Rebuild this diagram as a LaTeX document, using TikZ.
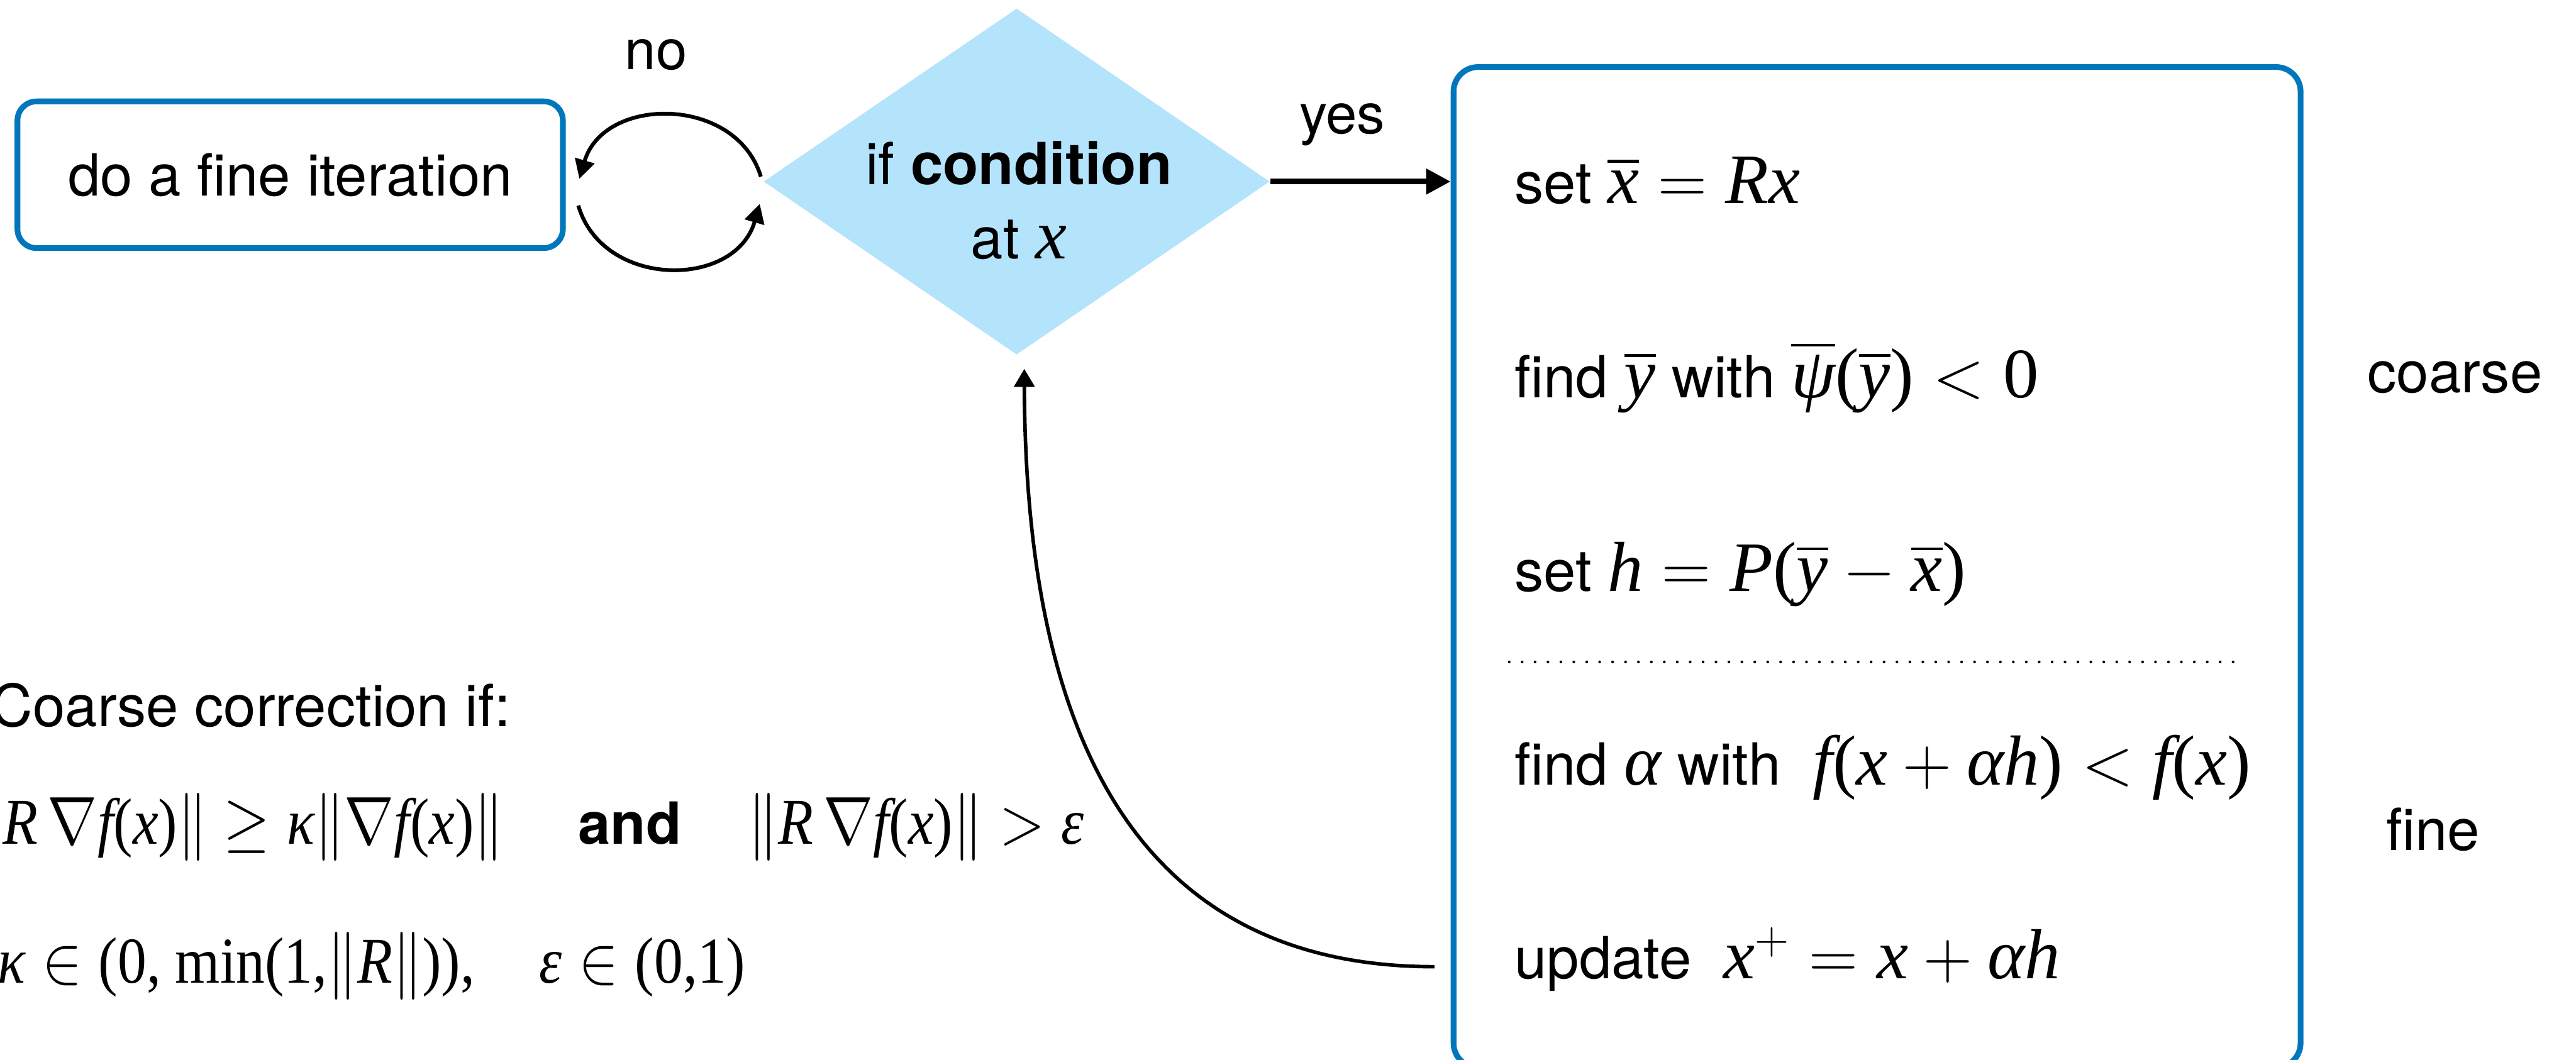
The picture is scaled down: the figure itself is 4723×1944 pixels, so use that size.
\documentclass[tikz,border=0pt]{standalone}
\usepackage{amsmath}
\usepackage{graphicx}
\usepackage[no-math]{fontspec}
\setmainfont{TeX Gyre Heros}
\newfontfamily\tms{Liberation Serif}
\usetikzlibrary{arrows.meta,shapes.geometric}
\definecolor{frameblue}{RGB}{0,119,187}
\definecolor{decisionfill}{RGB}{180,227,252}
% serif letters inside formulas
\newcommand\mi[1]{\text{\tms\itshape #1}}
\newcommand\mr[1]{\text{\tms #1}}
% formulas set a little larger than the sans text around them
\newcommand\eqn[1]{{\fontsize{26}{30}\selectfont$#1$}}
% condensed display of the criterion formulas
\newcommand\cond[1]{\scalebox{0.88}[1]{$#1$}}

\begin{document}
\begin{tikzpicture}[x=0.2pt,y=0.2pt,
  txt/.style={inner sep=0pt, font=\fontsize{21.3}{27}\selectfont},
  lbl/.style={inner sep=0pt, font=\fontsize{20.5}{25}\selectfont},
  fml/.style={inner sep=0pt, font=\fontsize{24}{28}\selectfont},
  roundbox/.style={draw=frameblue, line width=2.1pt, inner sep=0pt},
  decision/.style={diamond, fill=decisionfill, inner sep=0pt,
    minimum width=185.6pt, minimum height=127pt, shape aspect=1.46},
  loopflow/.style={line width=1.4pt, -{Triangle[length=7pt,width=7.2pt]}},
  backflow/.style={line width=1.3pt, -{Triangle[length=6.6pt,width=7.4pt]}},
  yesflow/.style={line width=2.1pt, -{Triangle[length=9pt,width=9pt]}},
  sepdots/.style={line width=1pt, line cap=round, dash pattern=on 0pt off 4.74pt}]

\useasboundingbox (0,0) rectangle (4723,1944);

% fine iteration box and decision diamond
\node[roundbox, txt, rounded corners=7pt, minimum width=200pt, minimum height=53.8pt]
  (fine) at (532,1623.5) {do a fine iteration};
\node[decision] (cond) at (1864,1611) {};
\node[txt, anchor=base] (condA) at (1868,1605) {if \textbf{condition}};
\node[txt, anchor=base] (condB) at (1868,1469) {at \eqn{\mi{x}}};

% branch labels
\node[lbl, anchor=base] (no) at (1203,1817) {no};
\node[lbl, anchor=base] (yes) at (2461,1699) {yes};

% coarse/fine step box
\node[roundbox, rounded corners=9pt, minimum width=310.6pt, minimum height=367pt]
  (steps) at (3441.5,903.5) {};
\node[txt, anchor=base west] (s1) at (2776,1571)
  {set \eqn{\overline{\mi{x}} = \mi{R}\mi{x}}};
\node[txt, anchor=base west] (s2) at (2776,1215)
  {find \eqn{\overline{\mi{y}}} with
   \eqn{\overline{\mi{ψ}}\mr{(}\overline{\mi{y}}\mr{)} < \mr{0}}};
\node[txt, anchor=base west] (s3) at (2776,860)
  {set \eqn{\mi{h} = \mi{P}\mr{(}\overline{\mi{y}} - \overline{\mi{x}}\mr{)}}};
\draw[sepdots] (2767,730) -- (4116,730);
\node[txt, anchor=base west] (s4) at (2776,504)
  {find \eqn{\mi{α}} with\ \
   \eqn{\mi{f}\mr{(}\mi{x} + \mi{α}\mi{h}\mr{)} < \mi{f}\mr{(}\mi{x}\mr{)}}};
\node[txt, anchor=base west] (s5) at (2776,149)
  {update\ \ \eqn{\mi{x}^{+} = \mi{x} + \mi{α}\mi{h}}};

\node[txt, anchor=base west] (coarse) at (4340,1224) {coarse};
\node[txt, anchor=base west] (finelbl) at (4374,384) {fine};

% criterion for the coarse correction
\node[txt, anchor=base east] (cc) at (937,612) {Coarse correction if:};
\node[fml, anchor=base east] (crit1) at (925,396)
  {\cond{\|\mi{R}\,\nabla\mi{f}\mr{(}\mi{x}\mr{)}\| \geq
    \mi{κ}\|\nabla\mi{f}\mr{(}\mi{x}\mr{)}\|}};
\node[txt, anchor=base west] (andw) at (1059,396) {\textbf{and}};
\node[fml, anchor=base west] (crit2) at (1371,396)
  {\cond{\|\mi{R}\,\nabla\mi{f}\mr{(}\mi{x}\mr{)}\| > \mi{ε}}};
\node[fml, anchor=base east] (kappa) at (872,141)
  {\cond{\mi{κ} \in \mr{(0, min(1,}\|\mi{R}\|\mr{)),}}};
\node[fml, anchor=base west] (eps) at (988,141)
  {\cond{\mi{ε} \in \mr{(0,1)}}};

% connectors
\draw[yesflow] (cond.east) -- (cond.east -| steps.west);
\draw[loopflow] ([shift={(-4,9)}]cond.west)
  .. controls +(-45,149) and +(45,153) .. ([shift={(25,-7.5)}]fine.east);
\draw[loopflow] ([shift={(23,-56.5)}]fine.east)
  .. controls +(45,-153) and +(-45,-156) .. ([shift={(-6,-41)}]cond.west);
\coordinate (retstart) at (2630,171);
\draw[backflow] (retstart)
  .. controls +(-580,0) and +(2,-619) .. ([shift={(14,-25)}]cond.south);
\end{tikzpicture}
\end{document}
